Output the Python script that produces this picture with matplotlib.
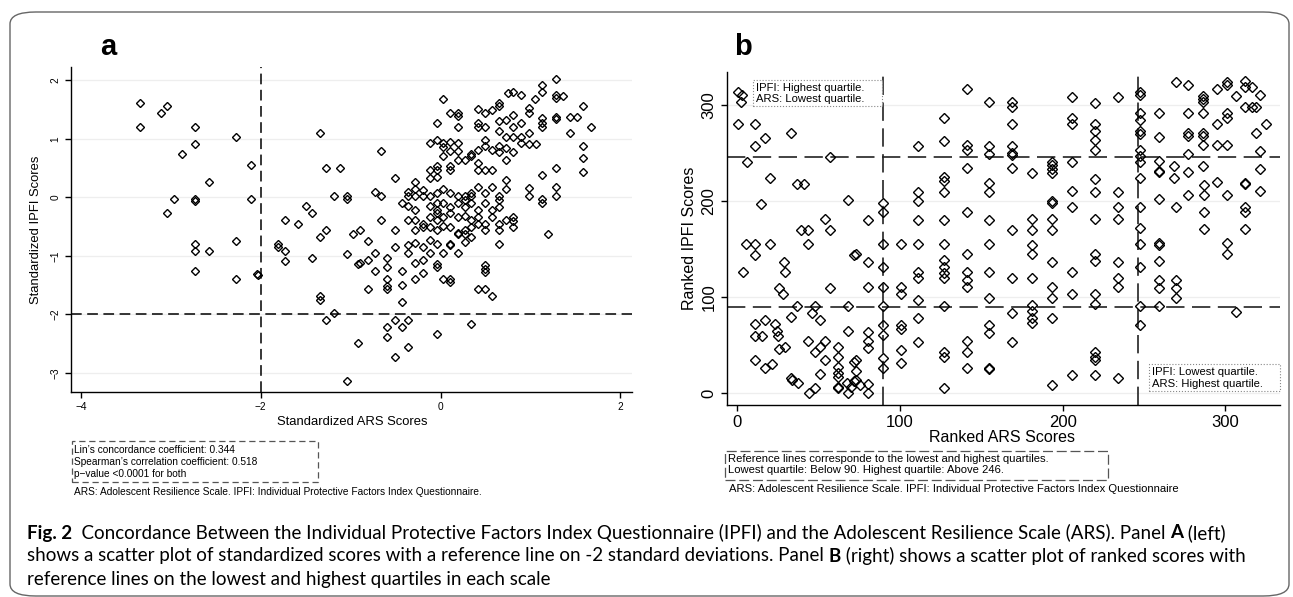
import matplotlib
matplotlib.use("Agg")
import matplotlib.pyplot as plt
from matplotlib.patches import FancyBboxPatch, Rectangle

# ---- panel a: standardized scores (ARS on x, IPFI on y) ----
std_ars = [
    -3.34, -3.34, -3.11, -3.04, -2.73, -2.73, -2.88, -2.96, -3.04, -2.73, -2.73, -2.73, -2.73, -2.73,
    -2.57, -2.57, -2.27, -2.27, -2.27, -2.11, -2.11, -2.03, -2.04,
    -1.34, -1.27, -1.12, -1.19, -1.04, -1.04, -1.50, -1.43, -1.73, -1.58, -1.27, -1.34, -0.97,
    -1.81, -1.81, -1.73, -1.73, -1.43, -1.04, -0.92, -1.34, -1.34, -1.19, -1.27, -0.92, -1.04,
    0.03, -0.04, 0.11, 0.19, 0.19, 0.19, 0.42, 0.50, 0.57, 0.65,
    0.65, 0.75, 0.42, 0.42, 0.50, 0.50, 0.65, 0.65, 0.73, 0.73,
    -0.12, -0.04, 0.03, 0.11, 0.19, 0.03, 0.11, 0.19, 0.27, 0.34,
    0.34, 0.42, 0.50, 0.57, 0.65, 0.65, 0.73, 0.73, -0.66, 0.03,
    -0.04, -0.04, -0.12, 0.11, 0.11, 0.19, 0.42, 0.50, 0.57, 0.42,
    -0.51, -0.28, -0.12, -0.04, -0.28, -0.36, -0.20, -0.73, -0.66, -0.43,
    -0.36, -0.28, -0.20, -0.12, -0.04, 0.03, 0.11, 0.19, 0.27, 0.34,
    0.34, 0.42, 0.50, 0.57, 0.65, 0.73, 0.73, -0.36, -0.28, -0.12,
    -0.04, -0.04, 0.03, 0.11, 0.19, 0.27, 0.27, 0.34, 0.42, 0.50,
    0.57, 0.65, 0.65, -0.51, -0.66, -0.36, -0.28, -0.20, -0.12, -0.04,
    -0.04, 0.03, 0.11, 0.19, 0.27, 0.34, 0.42, 0.50, 0.57, 0.65,
    0.73, -0.28, -0.20, -0.12, -0.04, 0.03, 0.11, 0.19, 0.27, 0.34,
    0.42, 0.50, 0.65, 0.65, -0.89, -0.81, -0.89, -0.81, -0.73, -0.73,
    -0.81, -0.59, -0.59, -0.59, -0.59, -0.59, -0.51, -0.43, -0.43, -0.43,
    -0.36, -0.36, -0.28, -0.28, -0.28, -0.20, -0.20, -0.20, -0.12, -0.12,
    -0.04, -0.04, -0.04, 0.03, 0.03, 0.11, 0.11, 0.11, 0.11, 0.19,
    0.19, 0.27, 0.27, 0.34, 0.50, 0.50, 0.50, 0.42, 0.50, 0.57,
    -0.59, -0.51, -0.43, -0.36, -0.59, -0.51, -0.36, -0.04, 0.34,
    0.81, 0.81, 0.90, 0.98, 0.98, 0.98, 0.98, 0.81, 0.81, 0.90,
    0.90, 1.06, 1.13, 1.13, 1.13, 1.13, 1.13, 1.13, 1.05, 1.28,
    1.28, 1.28, 1.28, 1.28, 1.28, 1.36, 1.44, 1.44, 1.52, 1.59,
    1.59, 1.59, 1.59, 1.67, 0.81, 0.90, 0.81, 0.81, 0.81, 0.98,
    0.98, 1.13, 1.13, 1.28, 1.28, 1.20,
]
std_ipfi = [
    1.62, 1.21, 1.44, 1.57, 1.21, 0.91, 0.74, -0.02, -0.26, -0.02, -0.07, -0.79, -0.91, -1.26,
    0.26, -0.91, 1.03, -0.74, -1.39, 0.56, -0.02, -1.33, -1.31,
    1.10, 0.50, 0.50, 0.03, 0.03, -0.03, -0.14, -0.26, -0.39, -0.45, -0.56, -0.67, -0.62,
    -0.79, -0.85, -0.91, -1.09, -1.03, -0.97, -1.14, -1.69, -1.75, -1.97, -2.09, -2.50, -3.15,
    1.68, 1.27, 1.45, 1.45, 1.39, 1.21, 1.51, 1.45, 1.50, 1.62,
    1.57, 1.79, 1.21, 1.27, 1.21, 0.98, 1.30, 1.13, 1.33, 1.04,
    0.93, 0.98, 0.93, 0.95, 0.93, 0.86, 0.80, 0.80, 0.64, 0.70,
    0.75, 0.81, 0.87, 0.81, 0.87, 0.78, 0.84, 0.64, 0.80, 0.70,
    0.53, 0.47, 0.47, 0.47, 0.53, 0.64, 0.47, 0.47, 0.47, 0.58,
    0.33, 0.27, 0.33, 0.35, 0.15, 0.10, 0.13, 0.10, 0.02, -0.09,
    0.02, 0.02, 0.02, 0.02, 0.08, 0.15, 0.08, 0.02, 0.02, 0.08,
    0.02, 0.18, 0.07, 0.18, 0.02, 0.30, 0.14, -0.15, -0.22, -0.15,
    -0.10, -0.22, -0.10, -0.16, -0.10, -0.05, -0.16, -0.10, -0.22, -0.10,
    -0.22, -0.05, -0.16, -0.56, -0.38, -0.38, -0.39, -0.45, -0.33, -0.27,
    -0.38, -0.33, -0.26, -0.33, -0.32, -0.38, -0.33, -0.45, -0.33, -0.45,
    -0.39, -0.56, -0.50, -0.50, -0.56, -0.49, -0.50, -0.61, -0.56, -0.50,
    -0.45, -0.56, -0.56, -0.79, -0.56, -0.74, -1.13, -1.07, -0.96, -1.26,
    -1.56, -1.03, -1.19, -1.39, -1.52, -1.56, -0.85, -1.26, -1.50, -1.79,
    -0.82, -0.95, -0.78, -1.13, -1.39, -0.85, -1.07, -1.30, -0.96, -0.73,
    -1.14, -1.19, -0.79, -0.96, -1.39, -0.79, -0.82, -1.39, -1.45, -0.96,
    -0.62, -0.62, -0.76, -0.67, -1.16, -1.22, -1.27, -1.56, -1.56, -1.69,
    -2.22, -2.09, -2.22, -2.09, -2.39, -2.73, -2.56, -2.33, -2.16,
    1.41, 1.21, 1.27, 1.44, 1.53, 1.10, 0.91, 1.04, 0.78, 1.04,
    0.93, 0.91, 1.93, 1.81, 1.35, 1.21, 1.27, 0.38, 1.68, 2.03,
    1.75, 1.70, 1.38, 1.34, 0.50, 1.74, 1.10, 1.38, 1.38, 1.57,
    0.87, 0.68, 0.44, 1.21, 1.81, 1.75, -0.40, -0.34, -0.51, 0.16,
    0.03, -0.03, -0.09, 0.17, 0.03, -0.63,
]

# ---- panel b: ranked scores ----
rank_ars = [
    0.6, 3.4, 2.2, 0.6, 10.8, 10.8, 17.4, 33.3, 6.3, 57.3,
    20.3, 36.8, 40.9, 14.9, 68.1, 54.2, 39.5, 43.6, 57.3, 43.6,
    5.5, 10.8, 20.3, 10.8, 3.9, 28.9, 29.7, 71.8, 26, 28.1,
    57.3, 36.8, 48.1, 68.1, 33.3, 46, 51.1, 68.1, 10.8, 17.4,
    23.1, 10.8, 15.3, 24.5, 25.4, 26, 29.7, 43.6, 48.1, 51.1,
    54.2, 54.2, 62, 62, 62, 62, 62, 62, 62, 68.1,
    10.8, 17.4, 21.5, 33.3, 34.1, 37.4, 44, 48.1, 51.1, 71.6,
    71.6, 67.5, 69.8,
    141.2, 155.1, 127.3, 127.3, 111.5, 141.2, 141.2, 141.2, 155.1, 155.1,
    127.3, 127.3, 127.3, 111.5, 111.5, 155.1, 155.1, 90, 90, 80.2,
    111.5, 127.3, 141.2, 155.1, 90, 100.7, 111.5, 127.3, 155.1, 73.2,
    80.2, 90, 141.2, 111.5, 111.5, 127.3, 127.3, 127.3, 127.3, 141.2,
    141.2, 141.2, 155.1, 80.2, 90, 100.7, 100.7, 111.5, 155.1, 90,
    127.3, 111.5, 90, 90, 100.7, 100.7, 80.2, 80.2, 80.2, 100.7,
    100.7, 111.5, 90, 90, 73.2, 73.2, 73.2, 75.7, 80.2, 80.2,
    127.3, 127.3, 127.3, 141.2, 141.2, 141.2, 155.1, 155.1, 155.1, 155.1,
    169.2, 169.2, 169.2, 169.2, 169.2, 169.2, 169.2, 181.5, 193.4, 193.4,
    193.4, 193.4, 206, 206, 206, 206, 220, 220, 220, 220,
    220, 233.9, 247.6, 247.6, 247.6, 247.6, 247.6, 247.6, 247.6, 247.6,
    247.6, 247.6, 220, 220, 233.9, 206, 193.4, 193.4, 206, 220,
    233.9, 233.9, 247.6, 169.2, 181.5, 181.5, 193.4, 193.4, 181.5, 181.5,
    193.4, 206, 220, 220, 233.9, 247.6, 247.6, 247.6, 169.2, 181.5,
    193.4, 193.4, 206, 220, 220, 233.9, 233.9, 181.5, 181.5, 181.5,
    181.5, 193.4, 169.2, 169.2, 247.6, 247.6, 220, 220, 220, 220,
    206, 233.9, 193.4,
    259.5, 259.5, 259.5, 259.5, 259.5, 269.6, 277.2, 277.2, 277.2, 277.2,
    277.2, 277.2, 268.4, 268.4, 286, 286, 286, 286, 286, 286,
    286, 286, 295, 295, 300.8, 300.8, 300.8, 300.8, 295, 300.8,
    306.3, 311.9, 311.9, 311.9, 316, 319, 316, 321.5, 319, 325,
    321.5, 321.5, 311.9, 295,
    259.5, 259.5, 259.5, 259.5, 259.5, 259.5, 259.5, 269.6, 269.6, 269.6,
    269.6, 277.2, 286.6, 286.6, 286.6, 286.6, 300.8, 300.8, 300.8, 306.3,
    311.9, 311.9, 311.9, 311.9, 321.5,
]
rank_ipfi = [
    314, 311, 303, 280, 280, 258, 266, 271, 241, 246,
    224, 218, 218, 197, 201, 182, 170, 170, 170, 156,
    156, 156, 156, 144, 126, 137, 126, 144, 110, 103,
    110, 91.5, 91.5, 91.5, 80, 83.5, 76.6, 65, 72, 76.6,
    72, 60, 60, 65, 60, 46, 48.8, 54.7, 43.5, 48.8,
    54.7, 35, 48.8, 38.3, 28, 21, 17.5, 7.1, 5.4, 0.2,
    35, 26, 30.3, 15.8, 14, 10.6, 0.2, 5.4, 19.9, 33,
    13, 10.6, 7.1,
    317, 303, 287, 263, 258, 259, 253, 235, 258, 249,
    225, 221, 209.6, 210, 200.5, 218.8, 210, 198, 189, 180.7,
    180.7, 180.7, 189, 180.7, 155.4, 155.4, 155.4, 155.4, 155.4, 145,
    137.3, 132, 145, 126.9, 120, 139, 132, 125.6, 120, 126.9,
    118, 111, 126.9, 111, 111, 111, 104, 97.4, 99, 90.5,
    90.5, 79, 71.4, 61, 71.4, 67, 64, 54.7, 47, 45,
    31.4, 54, 37.3, 27, 35, 23, 14, 9, 9.7, 0.2,
    42.9, 38.3, 6.1, 54.7, 43.5, 27, 71.4, 62.6, 27, 25,
    303, 298, 280, 258, 250, 248, 235, 229, 241, 238,
    234, 229, 308, 287, 280, 241, 302, 280, 273, 264,
    253, 308, 314, 311, 292, 285, 273, 270, 253, 247,
    241, 224, 223.5, 210, 210, 211, 200.5, 198, 193.6, 182,
    193.6, 182, 193.6, 170.3, 182, 170.3, 182, 170.3, 155, 145,
    137.3, 126, 145, 138, 137.3, 172, 155.4, 132, 120, 120,
    111, 99, 103, 103, 93, 120, 111, 92, 86, 79,
    73, 79, 83.5, 54, 90.5, 71.4, 43.5, 38, 35, 19.4,
    19.4, 16, 8.3,
    292, 267, 242, 231, 230, 324, 321, 292, 271, 268,
    249, 230, 237, 224, 306, 303, 310, 292, 271, 268,
    259, 237, 317, 280, 324, 321, 292, 287, 259, 259,
    310, 325, 319, 298, 298, 298, 319, 311, 271, 280,
    252, 234, 219, 220,
    118.5, 110, 90.6, 137.8, 157, 155, 202.4, 193.7, 118.5, 110,
    99.3, 206, 216.4, 206, 188.5, 171, 206, 157, 144.8, 84.3,
    218, 193.7, 188.5, 171, 211,
]

quartile_low, quartile_high = 90, 246
std_ref = -2

W, H = 1293, 597
fig = plt.figure(figsize=(W / 100, H / 100), dpi=100)
plt.rcParams['font.family'] = ['Liberation Sans', 'DejaVu Sans']


def fx(px):
    return px / W


def fy(py):
    return 1 - py / H


# outer rounded frame
fig.add_artist(FancyBboxPatch((fx(10), fy(596)), fx(1279), (596 - 12) / H,
                              boxstyle="round,pad=0,rounding_size=0.02",
                              transform=fig.transFigure, fc='none', ec='#666666', lw=1.0))


def style_axes(ax, tick_size):
    for s in ['top', 'right']:
        ax.spines[s].set_visible(False)
    for s in ['left', 'bottom']:
        ax.spines[s].set_linewidth(1.0)
    ax.tick_params(direction='out', length=4, width=1, labelsize=tick_size)
    ax.yaxis.grid(True, color='#eeeeee', lw=0.9)
    ax.set_axisbelow(True)


# ---- panel a ----
ax_a = fig.add_axes([fx(71), fy(392), fx(632 - 71), (392 - 67) / H])
style_axes(ax_a, 7.3)
ax_a.set_xlim(-4.11, 2.13)
ax_a.set_ylim(-3.33, 2.23)
ax_a.set_xticks([-4, -2, 0, 2])
ax_a.set_yticks([-3, -2, -1, 0, 1, 2])
ax_a.set_yticklabels(['\u22123', '\u22122', '\u22121', '0', '1', '2'], rotation=90, va='center')
ax_a.axvline(std_ref, color='black', lw=1.1, dashes=(7, 3.6))
ax_a.axhline(std_ref, color='black', lw=1.1, dashes=(7, 3.6))
ax_a.plot(std_ars, std_ipfi, 'D', mfc='none', mec='black', ms=4.2, mew=1.0)

fig.text(fx(100), fy(55), 'a', fontsize=21, weight='bold', va='baseline')
fig.text(fx(352), fy(422), 'Standardized ARS Scores', fontsize=9.4, ha='center', va='center')
fig.text(fx(36), fy(230), 'Standardized IPFI Scores', fontsize=9.4, ha='center', va='center', rotation=90)

fig.add_artist(Rectangle((fx(72), fy(482)), fx(318 - 72), (482 - 441) / H, transform=fig.transFigure,
                         fc='none', ec='#555555', lw=0.9, ls=(0, (5, 3))))
for i, line in enumerate(["Lin\u2019s concordance coefficient: 0.344",
                          "Spearman\u2019s correlation coefficient: 0.518",
                          "p\u2212value <0.0001 for both"]):
    fig.text(fx(74), fy(450 + 12 * i), line, fontsize=7.3, va='center')
fig.text(fx(74), fy(492), "ARS: Adolescent Resilience Scale. IPFI: Individual Protective Factors Index Questionnaire.",
         fontsize=7.3, va='center')

# ---- panel b ----
ax_b = fig.add_axes([fx(727), fy(405), fx(1280 - 727), (405 - 72) / H])
style_axes(ax_b, 12)
ax_b.set_xlim(-6.1, 333.5)
ax_b.set_ylim(-12, 334.5)
ax_b.set_xticks([0, 100, 200, 300])
ax_b.set_yticks([0, 100, 200, 300])
ax_b.set_yticklabels(['0', '100', '200', '300'], rotation=90, va='center')
for q in (quartile_low, quartile_high):
    ax_b.axvline(q, color='#222222', lw=1.2, dashes=(11, 4.5))
    ax_b.axhline(q, color='#222222', lw=1.2, dashes=(11, 4.5))
ax_b.plot(rank_ars, rank_ipfi, 'D', mfc='none', mec='black', ms=4.6, mew=1.0)

fig.text(fx(734), fy(55), 'b', fontsize=21, weight='bold', va='baseline')
fig.text(fx(1002), fy(438), 'Ranked ARS Scores', fontsize=11.5, ha='center', va='center')
fig.text(fx(690), fy(238), 'Ranked IPFI Scores', fontsize=11.5, ha='center', va='center', rotation=90)

fig.add_artist(Rectangle((fx(753), fy(106)), fx(882 - 753), (106 - 80) / H, transform=fig.transFigure,
                         fc='white', ec='#888888', lw=0.8, ls=':'))
fig.text(fx(756), fy(88), "IPFI: Highest quartile.", fontsize=8.1, va='center')
fig.text(fx(756), fy(99), "ARS: Lowest quartile.", fontsize=8.1, va='center')

fig.add_artist(Rectangle((fx(1149), fy(391)), fx(1280 - 1149), (391 - 364) / H, transform=fig.transFigure,
                         fc='white', ec='#888888', lw=0.8, ls=':'))
fig.text(fx(1152), fy(372), "IPFI: Lowest quartile.", fontsize=8.1, va='center')
fig.text(fx(1152), fy(384), "ARS: Highest quartile.", fontsize=8.1, va='center')

fig.add_artist(Rectangle((fx(725), fy(480)), fx(1108 - 725), (480 - 451) / H, transform=fig.transFigure,
                         fc='none', ec='#555555', lw=0.9, ls=(0, (8, 3))))
fig.text(fx(728), fy(459), "Reference lines corresponde to the lowest and highest quartiles.", fontsize=8.1, va='center')
fig.text(fx(728), fy(470), "Lowest quartile: Below 90. Highest quartile: Above 246.", fontsize=8.1, va='center')
fig.text(fx(729), fy(489), "ARS: Adolescent Resilience Scale. IPFI: Individual Protective Factors Index Questionnaire",
         fontsize=8.1, va='center')

# ---- caption ----
cap_lines = [
    [("Fig. 2", True), ("  Concordance Between the Individual Protective Factors Index Questionnaire (IPFI) and the Adolescent Resilience Scale (ARS). Panel ", False), ("A", True), (" (left)", False)],
    [("shows a scatter plot of standardized scores with a reference line on -2 standard deviations. Panel ", False), ("B", True), (" (right) shows a scatter plot of ranked scores with", False)],
    [("reference lines on the lowest and highest quartiles in each scale", False)],
]
cap_y = [533, 556, 579]
cap_font = 'Lato'
renderer = fig.canvas.get_renderer()


def run_width(runs, size):
    w = 0
    for s, b in runs:
        t = fig.text(0, 0, s, fontsize=size, family=cap_font, weight='bold' if b else 'normal')
        w += t.get_window_extent(renderer).width
        t.remove()
    return w


cap_size = 10 * 1200 / run_width(cap_lines[0], 10)
for runs, y in zip(cap_lines, cap_y):
    x = 27
    for s, b in runs:
        t = fig.text(fx(x), fy(y), s, fontsize=cap_size, family=cap_font,
                     weight='bold' if b else 'normal', va='center', color='black')
        x += t.get_window_extent(renderer).width

fig.savefig('out.png', dpi=100)
